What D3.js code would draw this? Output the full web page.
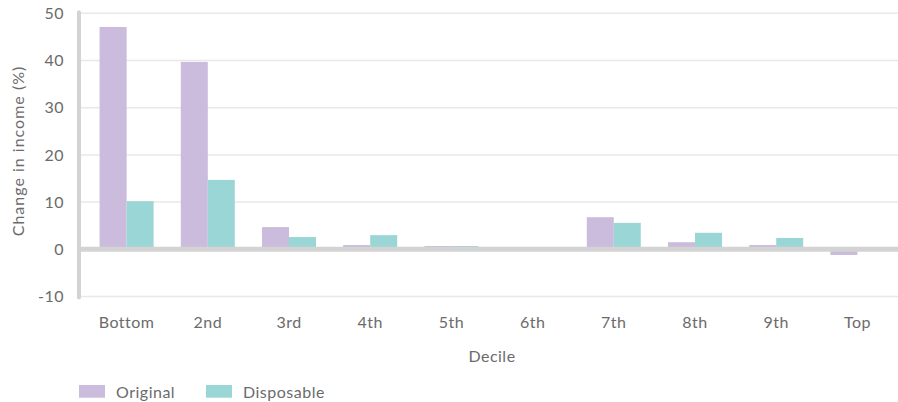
<!DOCTYPE html>
<html><head><meta charset="utf-8">
<script src="https://cdn.jsdelivr.net/npm/d3@7"></script>
<style>
body{margin:0;background:#fff;}
text{font-family:Lato,"Open Sans",sans-serif;fill:#6b6b6b;font-size:16px;letter-spacing:0.5px;}
</style></head>
<body><svg id="c" width="898" height="402"></svg>
<script>
const categories = ["Bottom","2nd","3rd","4th","5th","6th","7th","8th","9th","Top"];
const originalValues = [47.1, 39.7, 4.7, 0.9, 0.7, 0.1, 6.8, 1.5, 0.9, -1.2];
const disposableValues = [10.2, 14.7, 2.6, 3.0, 0.7, 0.1, 5.6, 3.5, 2.4, -0.1];
const seriesNames = ["Original","Disposable"];
const seriesColors = ["#cbbbdc","#9bd6d6"];
const yTicks = [-10,0,10,20,30,40,50];

const svg = d3.select("#c");
const x = d3.scaleBand().domain(categories).range([86, 898]).paddingInner(0.335).paddingOuter(0.1675);
const x1 = d3.scaleBand().domain(seriesNames).range([0, x.bandwidth()]);
const y = d3.scaleLinear().domain([-10, 50]).range([296.5, 13.3]);

// gridlines
svg.append("g").selectAll("line").data(yTicks).join("line")
  .attr("x1", 80).attr("x2", 898)
  .attr("y1", d => y(d)).attr("y2", d => y(d))
  .attr("stroke", "#e8e8e8").attr("stroke-width", 1.5);

// bars
const data = [originalValues, disposableValues];
data.forEach((vals, si) => {
  svg.append("g").selectAll("rect").data(categories).join("rect")
    .attr("x", c => x(c) + x1(seriesNames[si]))
    .attr("width", x1.bandwidth())
    .attr("y", (c, i) => y(Math.max(0, vals[i])))
    .attr("height", (c, i) => Math.abs(y(vals[i]) - y(0)))
    .attr("fill", seriesColors[si]);
});

// zero line
svg.append("line").attr("x1", 78).attr("x2", 898).attr("y1", y(0)).attr("y2", y(0))
  .attr("stroke", "#d3d3d3").attr("stroke-width", 5);
// left axis
svg.append("line").attr("x1", 79).attr("x2", 79).attr("y1", y(50) - 1).attr("y2", y(-10) + 1)
  .attr("stroke", "#d3d3d3").attr("stroke-width", 4).attr("stroke-linecap", "round");

// y ticks
const yAxis = d3.axisLeft(y).tickValues(yTicks).tickSize(0).tickPadding(0).tickFormat(d => String(d));
const gy = svg.append("g").attr("transform", "translate(64,0)").call(yAxis);
gy.select(".domain").remove();
gy.selectAll("text").attr("fill", null).style("font-family", null).style("font-size", null).attr("font-size", null).attr("font-family", null);
gy.attr("font-size", null).attr("font-family", null);

// x ticks
const xAxis = d3.axisBottom(x).tickSize(0).tickPadding(0);
const gx = svg.append("g").attr("transform", "translate(0,316.6)").call(xAxis);
gx.select(".domain").remove();
gx.attr("font-size", null).attr("font-family", null);
gx.selectAll("text").attr("fill", null);

// axis titles
svg.append("text").attr("transform", "translate(24,151) rotate(-90)")
  .attr("text-anchor", "middle").style("letter-spacing", "1px").text("Change in income (%)");
svg.append("text").attr("x", 492).attr("y", 362).attr("text-anchor", "middle").text("Decile");

// legend
const leg = svg.append("g");
const legX = [79, 206];
seriesNames.forEach((n, i) => {
  leg.append("rect").attr("x", legX[i]).attr("y", 385).attr("width", 26).attr("height", 12.7).attr("fill", seriesColors[i]);
  leg.append("text").attr("x", legX[i] + 37).attr("y", 397.7).text(n);
});
</script></body></html>
